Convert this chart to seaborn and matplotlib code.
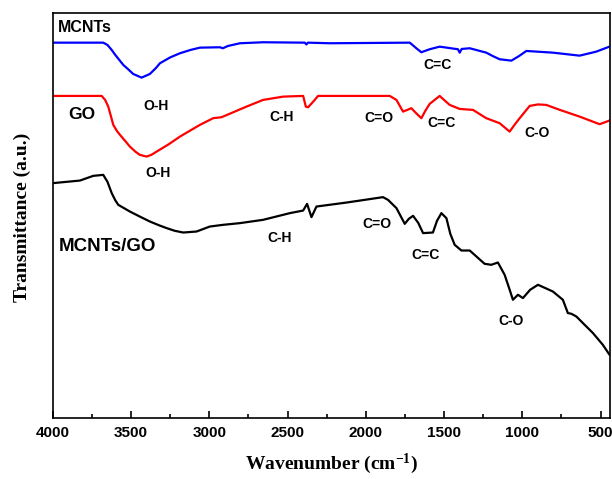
import numpy as np
import pandas as pd
import matplotlib
matplotlib.use("Agg")
import matplotlib.pyplot as plt
from matplotlib.ticker import MultipleLocator
import seaborn as sns

# ---------------- data ----------------
mcnt_wn = [4000, 3677, 3650, 3623, 3600, 3549, 3520, 3486, 3432, 3379, 3340, 3315, 3250, 3187,
           3120, 3060, 2932, 2913, 2880, 2804, 2656, 2390, 2379, 2370, 2230, 1719, 1677, 1645,
           1592, 1528, 1411, 1400, 1387, 1336, 1230, 1190, 1145, 1070, 1020, 974, 805, 634,
           528, 432]
mcnt_t = [375.3, 375.3, 373, 368, 363, 353, 349, 344, 340.3, 344, 350, 354.7, 360.5, 364.7,
          368, 370.3, 370.7, 369.7, 372, 374.7, 375.7, 375.3, 373.5, 375.3, 374.7, 375.3, 369.7, 365.7,
          368.7, 371.3, 368.7, 365.3, 369, 369.7, 365.3, 362, 358.7, 357.3, 362, 367, 365.3, 362.3,
          366.3, 372]

go_wn = [4000, 3687, 3665, 3645, 3625, 3613, 3590, 3570, 3540, 3507, 3470, 3443, 3400, 3370,
         3336, 3260, 3187, 3120, 3060, 2975, 2921, 2804, 2762, 2656, 2528, 2400, 2383, 2368,
         2326, 2305, 1847, 1804, 1762, 1735, 1709, 1680, 1645, 1620, 1592, 1528, 1500, 1464,
         1400, 1315, 1230, 1145, 1081, 1050, 1017, 953, 900, 847, 760, 634, 506, 432]
go_t = [322, 322, 318, 311.3, 300, 293, 287, 283, 277.5, 271.3, 266, 263, 261.3, 263,
        266.3, 273.5, 281.3, 287.5, 293, 299.7, 300.7, 308.5, 311.3, 318, 321.3, 322, 311.3, 310.7,
        318, 322, 322, 318, 306.3, 308, 309.7, 305, 299.7, 307, 314, 322, 318, 313,
        309, 308, 299.7, 294.7, 286.3, 293, 299.7, 312, 313.5, 313, 308, 301.3, 293.7, 298]

comp_wn = [4000, 3826, 3741, 3677, 3650, 3623, 3600, 3581, 3507, 3440, 3379, 3320, 3272, 3220,
           3166, 3081, 2996, 2911, 2804, 2656, 2485, 2400, 2375, 2347, 2315, 2123, 1890, 1858,
           1804, 1751, 1725, 1698, 1665, 1634, 1571, 1545, 1517, 1485, 1460, 1432, 1389, 1336,
           1241, 1198, 1156, 1113, 1085, 1060, 1028, 996, 950, 900, 805, 741, 709, 687, 655,
           613, 549, 486, 443]
comp_t = [234.7, 237.3, 242, 243, 236, 224.7, 217.5, 213, 206.3, 201, 196.3, 192.5, 189.7, 187,
          185.3, 186.3, 191.3, 193, 194.7, 198, 204.7, 207.3, 214, 200.7, 211.3, 215.3, 220.7, 218,
          209.7, 194, 199, 202, 195, 184.7, 185.3, 197, 204.7, 199.7, 184, 173, 167.3, 167.3,
          154, 153, 155.3, 143, 130, 118, 123, 119.7, 128, 133, 126.3, 118, 104.7, 104, 101.3,
          94.7, 84.7, 73, 63]

series_names = ["MCNTs", "GO", "MCNTs/GO"]
series_colors = ["#0000ff", "#ff0000", "#000000"]
x_ticks = [4000, 3500, 3000, 2500, 2000, 1500, 1000, 500]

# annotations: (text, wavenumber, value, fontsize, ha)
labels = [
    ("MCNTs", 3964, 390, 11.5, "left"),
    ("O-H", 3343, 312, 10, "center"),
    ("C=C", 1545, 353, 10, "center"),
    ("GO", 3815, 303, 12.5, "center"),
    ("O-H", 3326, 245, 10, "center"),
    ("C-H", 2538, 301, 10, "center"),
    ("C=O", 1917, 300, 10, "center"),
    ("C=C", 1515, 294.7, 10, "center"),
    ("C-O", 907, 284.7, 10, "center"),
    ("MCNTs/GO", 3964, 171, 13.5, "left"),
    ("C-H", 2551, 180, 10, "center"),
    ("C=O", 1928, 194, 10, "center"),
    ("C=C", 1617, 163, 10, "center"),
    ("C-O", 1070, 97, 10, "center"),
]

# ---------------- plotting ----------------
sns.set_style("ticks")
plt.rcParams["font.family"] = ["Liberation Sans", "DejaVu Sans"]
plt.rcParams["text.color"] = "black"
plt.rcParams["axes.labelcolor"] = "black"
plt.rcParams["xtick.color"] = "black"
plt.rcParams["axes.edgecolor"] = "black"
plt.rcParams["mathtext.fontset"] = "custom"
plt.rcParams["mathtext.rm"] = "Liberation Serif"
plt.rcParams["mathtext.bf"] = "Liberation Serif:bold"
plt.rcParams["mathtext.default"] = "bf"

fig = plt.figure(figsize=(6.12, 4.79), dpi=100)
ax = fig.add_axes([0.0861, 0.128, 0.9106, 0.8449])

frames = []
for name, wn, tv in zip(series_names, [mcnt_wn, go_wn, comp_wn], [mcnt_t, go_t, comp_t]):
    frames.append(pd.DataFrame({"wn": wn, "t": tv, "sample": name}))
df = pd.concat(frames, ignore_index=True)

for name, col in zip(series_names, series_colors):
    sub = df[df["sample"] == name]
    sns.lineplot(data=sub, x="wn", y="t", color=col, lw=1.6, ax=ax,
                 sort=False, estimator=None, legend=False)

ax.set_xlim(4000, 440)
ax.set_ylim(0, 405)
ax.set_xticks(x_ticks)
ax.xaxis.set_minor_locator(MultipleLocator(250))
ax.set_yticks([])
ax.tick_params(axis="x", which="major", direction="in", length=5, width=1.2,
               labelsize=11, pad=6, top=False, colors="black")
ax.tick_params(axis="x", which="minor", direction="in", length=3, width=1.2, top=False)
plt.setp(ax.get_xticklabels(), fontweight="bold")
for sp in ax.spines.values():
    sp.set_linewidth(1.2)
    sp.set_color("black")

ax.set_xlabel("Wavenumber (cm$^{-1}$)", fontfamily="Liberation Serif",
              fontweight="bold", fontsize=14, color="black")
ax.xaxis.set_label_coords(0.5, -0.085)
ax.set_ylabel("Transmittance (a.u.)", fontfamily="Liberation Serif",
              fontweight="bold", fontsize=14, color="black")
ax.yaxis.set_label_coords(-0.039, 0.495)

for txt, x, y, fs, ha in labels:
    ax.text(x, y, txt, fontsize=fs, fontweight="bold", ha=ha, va="center", color="black")

fig.savefig("out.png", dpi=100, facecolor="white")
